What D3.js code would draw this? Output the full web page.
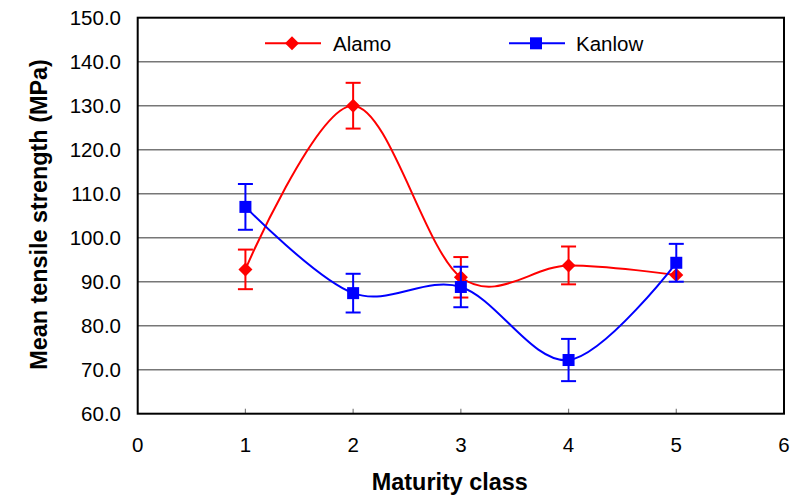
<!DOCTYPE html>
<html>
<head>
<meta charset="utf-8">
<script src="https://cdn.jsdelivr.net/npm/d3@7"></script>
<style>
  html, body { margin: 0; padding: 0; background: #fff; }
  svg { display: block; font-family: "Liberation Sans", Arial, sans-serif; }
</style>
</head>
<body>
<svg id="chart" width="794" height="502"></svg>
<script>
// Maturity classes on the x axis
const maturity = [1, 2, 3, 4, 5];
// Mean tensile strength (MPa) and error half-widths per cultivar
const alamoMean = [92.8, 130.0, 91.0, 93.7, 91.5];
const alamoErr  = [4.5, 5.2, 4.6, 4.3, 0];
const kanlowMean = [107.0, 87.4, 88.8, 72.2, 94.3];
const kanlowErr  = [5.2, 4.4, 4.6, 4.8, 4.3];
// Axis ticks
const xTicks = [0, 1, 2, 3, 4, 5, 6];
const yTicks = [60, 70, 80, 90, 100, 110, 120, 130, 140, 150];

const svg = d3.select("#chart");
const plotL = 137.7, plotR = 784, plotT = 17.7, plotB = 413.7;

const x = d3.scaleLinear().domain([0, 6]).range([plotL, plotR]);
const y = d3.scaleLinear().domain([60, 150]).range([plotB, plotT]);

// Horizontal gridlines
svg.append("g").selectAll("line").data(yTicks.filter(v => v > 60 && v < 150)).join("line")
  .attr("x1", plotL).attr("x2", plotR)
  .attr("y1", d => y(d)).attr("y2", d => y(d))
  .attr("stroke", "#777").attr("stroke-width", 1.5);

// Y tick labels
svg.append("g").selectAll("text").data(yTicks).join("text")
  .attr("x", 121).attr("y", d => y(d)).attr("dy", "0.36em")
  .attr("text-anchor", "end").attr("font-size", 20.5).attr("fill", "#000")
  .text(d => d.toFixed(1));

// X tick marks (inside) and labels
svg.append("g").selectAll("line").data(xTicks.slice(1, -1)).join("line")
  .attr("x1", d => x(d)).attr("x2", d => x(d))
  .attr("y1", plotB).attr("y2", plotB - 5)
  .attr("stroke", "#808080").attr("stroke-width", 1.2);
svg.append("g").selectAll("text").data(xTicks).join("text")
  .attr("x", d => x(d)).attr("y", 451.5)
  .attr("text-anchor", "middle").attr("font-size", 20.5).attr("fill", "#000")
  .text(d => d);

// Plot frame
svg.append("rect")
  .attr("x", plotL).attr("y", plotT)
  .attr("width", plotR - plotL).attr("height", plotB - plotT)
  .attr("fill", "none").attr("stroke", "#000").attr("stroke-width", 2);

// Axis titles
svg.append("text")
  .attr("x", (plotL + plotR) / 2 - 11).attr("y", 490)
  .attr("text-anchor", "middle").attr("font-size", 23.4).attr("font-weight", "bold")
  .text("Maturity class");
svg.append("text")
  .attr("transform", `translate(47,${(57 + 372) / 2}) rotate(-90)`)
  .attr("text-anchor", "middle").attr("font-size", 23.4).attr("font-weight", "bold")
  .text("Mean tensile strength (MPa)");

const line = d3.line().x(d => x(d.x)).y(d => y(d.v)).curve(d3.curveCardinal.tension(0));

const series = [
  { name: "Alamo", color: "#FF0000", mean: alamoMean, err: alamoErr, marker: "diamond" },
  { name: "Kanlow", color: "#0000FF", mean: kanlowMean, err: kanlowErr, marker: "square" }
];

function drawMarker(g, kind, cx, cy, color) {
  if (kind === "diamond") {
    const r = 7;
    g.append("path")
      .attr("d", `M${cx},${cy - r}L${cx + r},${cy}L${cx},${cy + r}L${cx - r},${cy}Z`)
      .attr("fill", color);
  } else {
    const s = 12;
    g.append("rect").attr("x", cx - s / 2).attr("y", cy - s / 2)
      .attr("width", s).attr("height", s).attr("fill", color);
  }
}

series.forEach(s => {
  const g = svg.append("g");
  const pts = maturity.map((m, i) => ({ x: m, v: s.mean[i], e: s.err[i] }));
  g.append("path").datum(pts).attr("d", line)
    .attr("fill", "none").attr("stroke", s.color).attr("stroke-width", 2);
  pts.forEach(p => {
    if (p.e > 0) {
      const cx = x(p.x), y1 = y(p.v + p.e), y2 = y(p.v - p.e);
      g.append("line").attr("x1", cx).attr("x2", cx).attr("y1", y1).attr("y2", y2)
        .attr("stroke", s.color).attr("stroke-width", 2);
      [y1, y2].forEach(yy => g.append("line")
        .attr("x1", cx - 7.5).attr("x2", cx + 7.5).attr("y1", yy).attr("y2", yy)
        .attr("stroke", s.color).attr("stroke-width", 2));
    }
    drawMarker(g, s.marker, x(p.x), y(p.v), s.color);
  });
});

// Legend
const legend = [
  { name: "Alamo", color: "#FF0000", marker: "diamond", x0: 265, tx: 333 },
  { name: "Kanlow", color: "#0000FF", marker: "square", x0: 509, tx: 576 }
];
legend.forEach(l => {
  const g = svg.append("g");
  const ly = 43.3;
  g.append("line").attr("x1", l.x0).attr("x2", l.x0 + 56).attr("y1", ly).attr("y2", ly)
    .attr("stroke", l.color).attr("stroke-width", 2);
  drawMarker(g, l.marker, l.x0 + 27, ly, l.color);
  g.append("text").attr("x", l.tx).attr("y", ly).attr("dy", "0.36em")
    .attr("font-size", 20.5).attr("fill", "#000").text(l.name);
});
</script>
</body>
</html>
